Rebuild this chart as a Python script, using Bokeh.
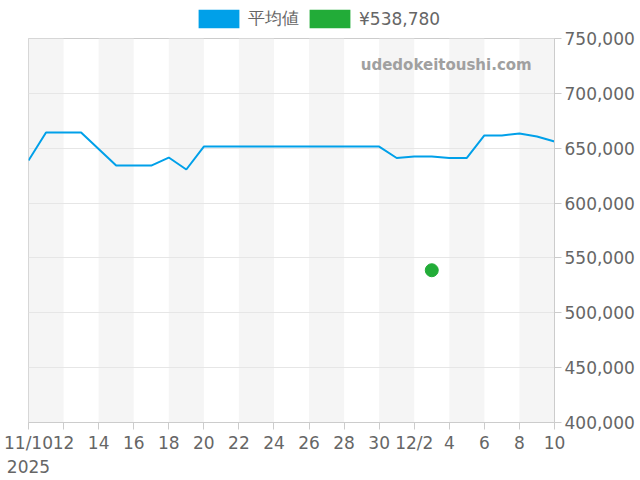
import pandas as pd
from bokeh.plotting import figure
from bokeh.layouts import column
from bokeh.models import (ColumnDataSource, FixedTicker, Legend, LegendItem, Label, Range1d,
                          NumeralTickFormatter)
from bokeh.embed import file_html
from bokeh.resources import INLINE

# ---- data ----
start_date = "2025-11-10"
end_date = "2025-12-10"
avg_prices = [638800, 664300, 664300, 664300, 649300, 634200, 634200, 634200, 641500, 630600,
              651500, 651500, 651500, 651500, 651500, 651500, 651500, 651500, 651500, 651500, 651500,
              641100, 642400, 642400, 641100, 641100, 661600, 661600, 663400, 660700, 656100]
point_date = "2025-12-03"
point_price = 538780
series_names = ["平均値", "¥538,780"]
y_ticks = [400000, 450000, 500000, 550000, 600000, 650000, 700000, 750000]

dates = pd.date_range(start_date, end_date, freq="D")
x = list(range(len(dates)))
t0 = dates[0]
px = (pd.Timestamp(point_date) - t0).days

BLUE = "#00a0e9"
GREEN = "#22ac38"
FONT = "DejaVu Sans"
FS = "17px"

src = ColumnDataSource(dict(x=x, y=avg_prices))
psrc = ColumnDataSource(dict(x=[px], y=[point_price]))

# ---- legend strip (separate figure above the chart) ----
top = figure(width=640, height=30, x_range=Range1d(-100, -99), y_range=Range1d(-100, -99),
             output_backend="svg", toolbar_location=None,
             min_border_left=0, min_border_right=0, min_border_top=0, min_border_bottom=0,
             outline_line_color=None, border_fill_color="white", background_fill_color="white")
top.axis.visible = False
top.grid.visible = False
r1 = top.quad(left="x", right="x", top="y", bottom="y", source=src, fill_color=BLUE, line_color=None)
r2 = top.quad(left="x", right="x", top="y", bottom="y", source=psrc, fill_color=GREEN, line_color=None)
legend = Legend(items=[LegendItem(label=series_names[0], renderers=[r1]),
                       LegendItem(label=series_names[1], renderers=[r2])],
                orientation="horizontal", location=(165, 0),
                glyph_width=51, glyph_height=23, label_text_font=FONT,
                label_text_font_size=FS, label_text_color="#666666",
                border_line_color=None, background_fill_alpha=0,
                padding=0, margin=0, spacing=5, label_standoff=4)
top.add_layout(legend, "center")

# ---- main chart ----
p = figure(width=640, height=450, x_range=Range1d(0, len(dates) - 1),
           y_range=Range1d(y_ticks[0], y_ticks[-1]), output_backend="svg",
           toolbar_location=None, y_axis_location="right",
           min_border_left=28, min_border_top=8, min_border_bottom=58, min_border_right=86,
           background_fill_color="white", border_fill_color="white")

# alternating bands every 2 days
band_left = [i for i in x[:-1] if i % 4 == 0]
band_right = [min(i + 2, x[-1]) for i in band_left]
p.quad(left=band_left, right=band_right, bottom=y_ticks[0], top=y_ticks[-1],
       fill_color="#f5f5f5", line_color=None, level="underlay")

p.line("x", "y", source=src, line_color=BLUE, line_width=2)
p.scatter("x", "y", source=psrc, size=13, fill_color=GREEN, line_color=GREEN)

# watermark
p.add_layout(Label(x=x[-1] - 1.3, y=y_ticks[-1] - 24000, text="udedokeitoushi.com",
                   text_font=FONT, text_font_style="bold", text_font_size="15px",
                   text_color="#a0a0a0", text_align="right", text_baseline="middle"))

# axes
p.yaxis.ticker = FixedTicker(ticks=y_ticks)
p.yaxis.formatter = NumeralTickFormatter(format="0,0")
xt = [i for i in x if i % 2 == 0]
labels = {}
for i in xt:
    d = dates[i]
    if i == 0:
        labels[i] = f"{d.month}/{d.day}\n{d.year}"
    elif d.day <= 2:
        labels[i] = f"{d.month}/{d.day}"
    else:
        labels[i] = f"{d.day}"
p.xaxis.ticker = FixedTicker(ticks=xt)
p.xaxis.major_label_overrides = labels

for ax in (p.xaxis[0], p.yaxis[0]):
    ax.axis_line_color = "#cccccc"
    ax.major_tick_line_color = "#cccccc"
    ax.major_tick_out = 7
    ax.major_tick_in = 0
    ax.minor_tick_line_color = None
    ax.major_label_text_font = FONT
    ax.major_label_text_font_size = FS
    ax.major_label_text_color = "#666666"
    ax.major_label_standoff = 3

p.xgrid.grid_line_color = None
p.ygrid.grid_line_color = "#e6e6e6"
p.ygrid.ticker = FixedTicker(ticks=y_ticks)
p.outline_line_color = "#cccccc"

layout = column(top, p, spacing=0)
open("out.html", "w").write(file_html(layout, INLINE))
